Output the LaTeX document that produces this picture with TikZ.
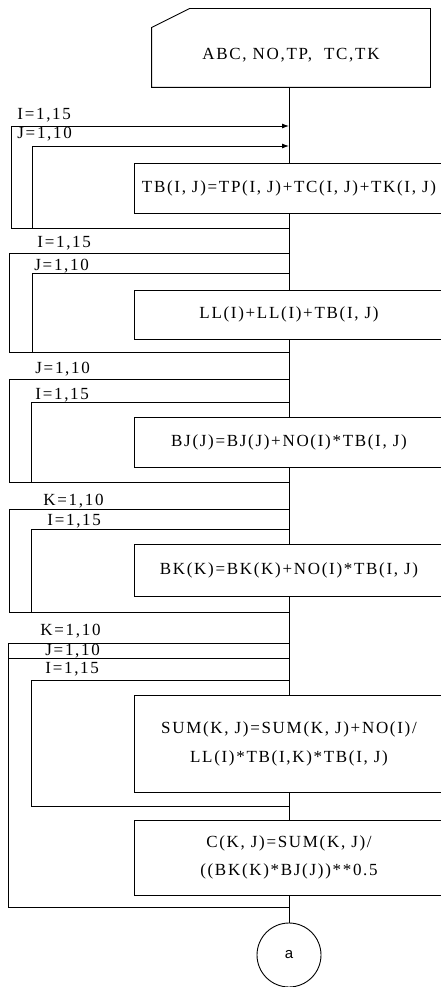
\documentclass[tikz,border=0pt]{standalone}
\usepackage{fontspec}
\setmainfont{Liberation Serif}
\newfontfamily\sanstxt{Liberation Sans}
\usetikzlibrary{arrows.meta,positioning,calc}

\begin{document}
\begin{tikzpicture}[
 x=1pt,y=-1pt,line width=0.9pt,
 font=\fontsize{17}{28.5}\selectfont\addfontfeature{LetterSpace=10},
 proc/.style={draw,fill=white,minimum width=310pt,align=center,inner sep=0pt},
 card/.style={minimum width=278pt,minimum height=78pt,inner sep=0pt},
 flow/.style={-{Latex[length=7pt,width=5pt]}},
 lbl/.style={anchor=base west,inner sep=0pt}]
\useasboundingbox (0,0) rectangle (441,987);
\clip (0,0) rectangle (441,987);
% input card
\node[card] (input) at (291,48) {};
\draw ($(input.north west)+(0,19)$) -- ($(input.north west)+(38,0)$)
 -- (input.north east) -- (input.south east) -- (input.south west) -- cycle;
\node (inputtxt) at (291,55) {ABC, NO,TP,\ \ TC,TK};
% process boxes
\node[proc,minimum height=50pt] (tb) at (289,188) {TB(I, J)=TP(I, J)+TC(I, J)+TK(I, J)};
\node[proc,minimum height=49pt] (ll) at (289,314.5) {LL(I)+LL(I)+TB(I, J)};
\node[proc,minimum height=50pt] (bj) at (289,442) {BJ(J)=BJ(J)+NO(I)*TB(I, J)};
\node[proc,minimum height=52pt] (bk) at (289,570) {BK(K)=BK(K)+NO(I)*TB(I, J)};
\node[proc,minimum height=97pt] (sum) at (289,744) {SUM(K, J)=SUM(K, J)+NO(I)/\\LL(I)*TB(I,K)*TB(I, J)};
\node[proc,minimum height=75pt] (cc) at (289,857.5) {C(K, J)=SUM(K, J)/\\((BK(K)*BJ(J))**0.5};
\node[draw,circle,minimum size=64pt,inner sep=0pt,font=\sanstxt\fontsize{15}{18}\selectfont] (a) at (289,955) {a};
% main line
\draw (input.south -| tb.north) -- (tb.north);
\draw (tb.south) -- (ll.north);
\draw (ll.south) -- (bj.north);
\draw (bj.south) -- (bk.north);
\draw (bk.south) -- (sum.north);
\draw (sum.south) -- (cc.north);
\draw (cc.south) -- (a.north);
% loop 1
\coordinate (o1) at (11,126);
\coordinate (i1) at (32,146);
\coordinate (e1) at (11,228);
\node[lbl] (lo1) at (17,120) {I=1,15};
\node[lbl] (li1) at (17,139) {J=1,10};
\draw[flow] (e1) -- (o1) -- (o1 -| tb.north);
\draw[flow] (i1 |- e1) -- (i1) -- (i1 -| tb.north);
\draw (e1) -- (e1 -| tb.south);
% loop 2
\coordinate (o2) at (9,253);
\coordinate (i2) at (32,273);
\coordinate (e2) at (9,352);
\node[lbl] (lo2) at (37,247) {I=1,15};
\node[lbl] (li2) at (34,270) {J=1,10};
\draw (e2) -- (o2) -- (o2 -| ll.north);
\draw (i2 |- e2) -- (i2) -- (i2 -| ll.north);
\draw (e2) -- (e2 -| ll.south);
% loop 3
\coordinate (o3) at (9,379);
\coordinate (i3) at (31,402);
\coordinate (e3) at (9,482);
\node[lbl] (lo3) at (35,373) {J=1,10};
\node[lbl] (li3) at (35,399) {I=1,15};
\draw (e3) -- (o3) -- (o3 -| bj.north);
\draw (i3 |- e3) -- (i3) -- (i3 -| bj.north);
\draw (e3) -- (e3 -| bj.south);
% loop 4
\coordinate (o4) at (9,509);
\coordinate (i4) at (31,529);
\coordinate (e4) at (9,612);
\node[lbl] (lo4) at (43,505) {K=1,10};
\node[lbl] (li4) at (47,525) {I=1,15};
\draw (e4) -- (o4) -- (o4 -| bk.north);
\draw (i4 |- e4) -- (i4) -- (i4 -| bk.north);
\draw (e4) -- (e4 -| bk.south);
% loop 5
\coordinate (o5) at (8,643);
\coordinate (m5) at (8,658);
\coordinate (i5) at (31,680);
\coordinate (f5) at (31,806);
\coordinate (e5) at (8,907);
\node[lbl] (lo5) at (40,635) {K=1,10};
\node[lbl] (lm5) at (45,655) {J=1,10};
\node[lbl] (li5) at (45,673) {I=1,15};
\draw (e5) -- (o5) -- (o5 -| sum.north);
\draw (m5) -- (m5 -| sum.north);
\draw (f5) -- (i5) -- (i5 -| sum.north);
\draw (f5) -- (f5 -| sum.south);
\draw (e5) -- (e5 -| cc.south);
\end{tikzpicture}
\end{document}
